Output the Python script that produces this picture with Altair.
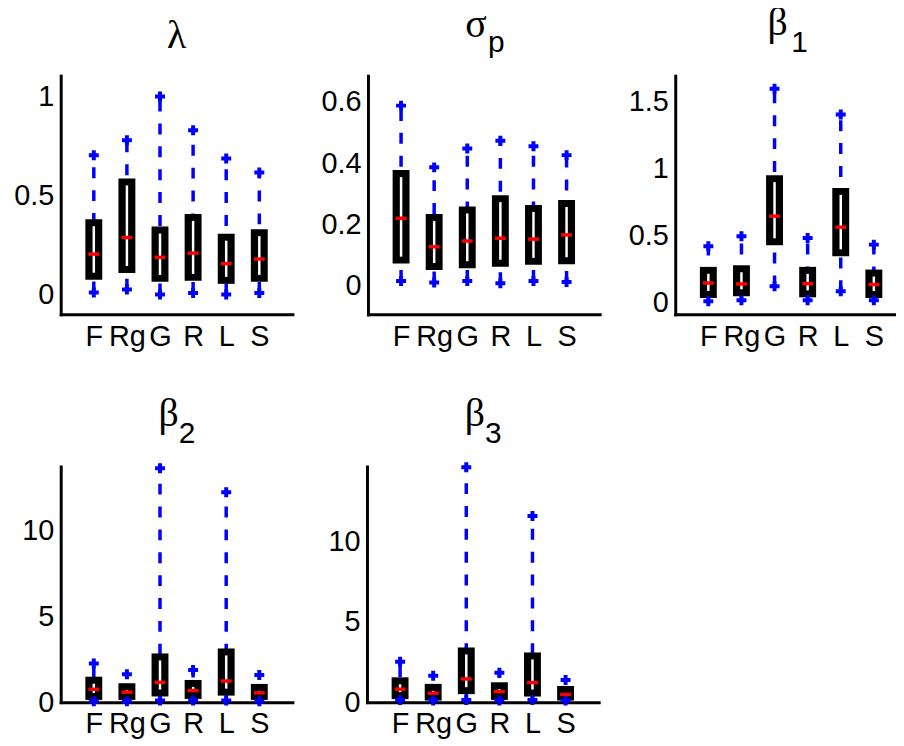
import json
import altair as alt
import pandas as pd

categories = ["F", "Rg", "G", "R", "L", "S"]

# lambda
lam_low = [0.01, 0.025, 0.0, 0.008, 0.0, 0.008]
lam_q1 = [0.075, 0.109, 0.064, 0.069, 0.054, 0.064]
lam_med = [0.204, 0.288, 0.188, 0.209, 0.156, 0.179]
lam_q3 = [0.380, 0.586, 0.343, 0.407, 0.307, 0.330]
lam_high = [0.703, 0.779, 1.0, 0.829, 0.687, 0.616]

# sigma_p
sig_low = [0.014, 0.009, 0.014, 0.007, 0.014, 0.011]
sig_q1 = [0.071, 0.050, 0.056, 0.061, 0.067, 0.069]
sig_med = [0.219, 0.126, 0.145, 0.154, 0.151, 0.165]
sig_q3 = [0.377, 0.233, 0.258, 0.295, 0.263, 0.279]
sig_high = [0.588, 0.386, 0.448, 0.473, 0.455, 0.426]

# beta_1
b1_low = [0.007, 0.015, 0.119, 0.015, 0.082, 0.015]
b1_q1 = [0.032, 0.045, 0.425, 0.037, 0.343, 0.032]
b1_med = [0.144, 0.137, 0.642, 0.139, 0.560, 0.132]
b1_q3 = [0.264, 0.276, 0.948, 0.264, 0.853, 0.244]
b1_high = [0.418, 0.493, 1.592, 0.480, 1.40, 0.430]

# beta_2
b2_low = [0.05, 0.05, 0.1, 0.1, 0.1, 0.05]
b2_q1 = [0.13, 0.13, 0.33, 0.19, 0.38, 0.13]
b2_med = [0.75, 0.58, 1.15, 0.67, 1.23, 0.54]
b2_q3 = [1.48, 1.10, 2.83, 1.29, 3.12, 1.06]
b2_high = [2.25, 1.62, 13.6, 1.87, 12.2, 1.58]

# beta_3
b3_low = [0.14, 0.1, 0.14, 0.1, 0.14, 0.1]
b3_q1 = [0.19, 0.10, 0.50, 0.14, 0.35, 0.10]
b3_med = [0.81, 0.56, 1.45, 0.66, 1.22, 0.48]
b3_q3 = [1.55, 1.14, 3.41, 1.24, 3.10, 1.01]
b3_high = [2.52, 1.65, 14.65, 1.84, 11.61, 1.38]

SANS = "Liberation Sans"
SERIF = "Liberation Serif"
BLUE = "#0000ff"
RED = "#ff0000"
STEP = 233 / 7.0

label_expr = json.dumps(categories) + "[datum.value - 1]"


def panel(base, sub, low, q1, med, q3, high, ydom, yticks, width, height,
          base_off, base_dx, sub_x):
    df = pd.DataFrame({
        "cat": categories,
        "pos": list(range(1, len(categories) + 1)),
        "low": low, "q1": q1, "med": med, "q3": q3, "high": high,
    })
    xmax = width / STEP
    xaxis = alt.Axis(values=list(range(1, len(categories) + 1)), labelExpr=label_expr,
                     title=None, grid=False, ticks=False, domainWidth=3,
                     domainColor="black", domainCap="square", labelFont=SANS,
                     labelFontSize=29, labelColor="black", labelPadding=8,
                     labelAngle=0, labelOverlap=False)
    yaxis = alt.Axis(values=yticks, format="~g", title=None, grid=False,
                     ticks=False, domainWidth=3, domainColor="black",
                     domainCap="square", labelFont=SANS, labelFontSize=29,
                     labelColor="black", labelPadding=7, minExtent=47,
                     maxExtent=47)
    xs = alt.Scale(domain=[0, xmax], nice=False, zero=False)
    ys = alt.Scale(domain=ydom, nice=False, zero=False)
    b = alt.Chart(df)
    whisk = b.mark_rule(color=BLUE, strokeWidth=3.5, strokeDash=[11, 12]).encode(
        x=alt.X("pos:Q", scale=xs, axis=xaxis),
        y=alt.Y("low:Q", scale=ys, axis=yaxis),
        y2="high:Q",
    )
    box = b.mark_rule(color="black", strokeWidth=17).encode(
        x="pos:Q", y="q1:Q", y2="q3:Q")
    inner = b.mark_rule(color="white", strokeWidth=2.5, yOffset=-7,
                        y2Offset=7).encode(x="pos:Q", y="q1:Q", y2="q3:Q")
    hi = b.mark_point(shape="cross", filled=True, size=100, color=BLUE,
                      opacity=1, strokeWidth=0).encode(x="pos:Q", y="high:Q")
    lo = b.mark_point(shape="cross", filled=True, size=100, color=BLUE,
                      opacity=1, strokeWidth=0).encode(x="pos:Q", y="low:Q")
    med_m = b.mark_rule(color=RED, strokeWidth=3.5, xOffset=-5.5,
                        x2Offset=5.5).encode(x="pos:Q", x2="pos:Q", y="med:Q")
    layers = [whisk, box, inner, hi, lo, med_m]
    tdf = pd.DataFrame({"t": [base]})
    layers.append(alt.Chart(tdf).mark_text(
        font=SERIF, fontSize=40, color="black", align="center",
        baseline="alphabetic").encode(
        text="t:N", x=alt.value(width / 2 + base_dx), y=alt.value(-base_off)))
    if sub:
        sdf = pd.DataFrame({"t": [sub]})
        layers.append(alt.Chart(sdf).mark_text(
            font=SANS, fontSize=30, color="black", align="center",
            baseline="alphabetic").encode(
            text="t:N", x=alt.value(sub_x), y=alt.value(-24)))
    return alt.layer(*layers).properties(width=width, height=height)


p1 = panel("λ", None, lam_low, lam_q1, lam_med, lam_q3, lam_high,
           [-0.1, 1.105], [0, 0.5, 1], 233, 240, 28, 0, 0)
p2 = panel("σ", "p", sig_low, sig_q1, sig_med, sig_q3, sig_high,
           [-0.095, 0.686], [0, 0.2, 0.4, 0.6], 233, 240, 39, -8, 129)
p3 = panel("β", "1", b1_low, b1_q1, b1_med, b1_q3, b1_high,
           [-0.09, 1.69], [0, 0.5, 1, 1.5], 222, 240, 41, -8, 125)
p4 = panel("β", "2", b2_low, b2_q1, b2_med, b2_q3, b2_high,
           [0, 13.7], [0, 5, 10], 233, 237, 41, -8, 127)
p5 = panel("β", "3", b3_low, b3_q1, b3_med, b3_q3, b3_high,
           [0, 14.7], [0, 5, 10], 233, 237, 41, -8, 127)

row1 = alt.hconcat(p1, p2, p3, spacing=28)
row2 = alt.hconcat(p4, p5, spacing=28)
chart = alt.vconcat(row1, row2, spacing=43).properties(
    padding={"left": 5, "top": -7, "right": 0, "bottom": 0},
    background="white",
).configure_view(stroke=None)

chart.save("out.html", embed_options={"renderer": "svg", "actions": False})
